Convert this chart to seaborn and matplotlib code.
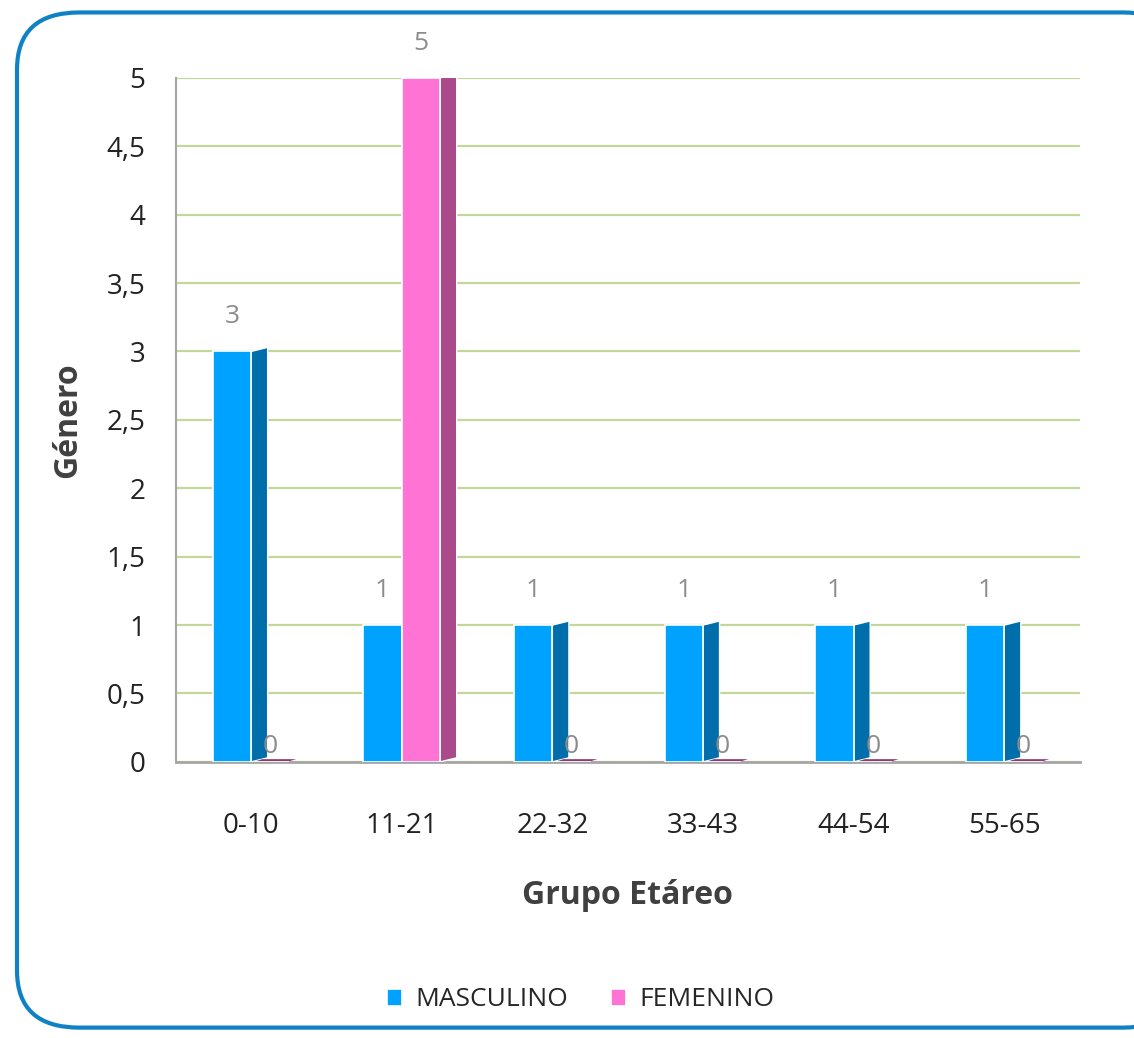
import numpy as np
import pandas as pd
import matplotlib
matplotlib.use("Agg")
import matplotlib.pyplot as plt
from matplotlib.patches import FancyBboxPatch, Polygon
from matplotlib.ticker import FuncFormatter
import seaborn as sns

# data
grupos = ["0-10", "11-21", "22-32", "33-43", "44-54", "55-65"]
masculino = [3, 1, 1, 1, 1, 1]
femenino = [0, 5, 0, 0, 0, 0]
series = ["MASCULINO", "FEMENINO"]

colors = {"MASCULINO": "#00A2FF", "FEMENINO": "#FF73D5"}
side_colors = {"MASCULINO": "#006EAA", "FEMENINO": "#AA4A8A"}

df = pd.DataFrame({
    "Grupo": grupos * 2,
    "Valor": masculino + femenino,
    "Serie": [series[0]] * len(grupos) + [series[1]] * len(grupos),
})

sns.set_style("white")
plt.rcParams["font.family"] = ["Open Sans", "DejaVu Sans"]

fig = plt.figure(figsize=(11.34, 10.38), dpi=100)

# rounded frame (behind everything)
frame = FancyBboxPatch((0.015, 0.01), 1.03, 0.978, boxstyle="round,pad=0,rounding_size=0.055",
                       transform=fig.transFigure, facecolor="white", edgecolor="#0E82C4",
                       linewidth=3, zorder=-10)
fig.patches.append(frame)

ax = fig.add_axes([0.155, 0.266, 0.797, 0.659])
ax.set_zorder(1)
ax.set_facecolor("none")

sns.barplot(data=df, x="Grupo", y="Valor", hue="Serie", palette=colors, saturation=1,
            width=0.51, ax=ax, edgecolor="white", linewidth=1.2, zorder=3, legend=True)

# fake 3D side faces, derived from the drawn bars
dx, dy = 0.11, 0.03
for container, name in zip(ax.containers, series):
    for p in container:
        x1 = p.get_x() + p.get_width()
        h = p.get_height()
        if h > 0:
            pts = [(x1, 0), (x1 + dx, dy), (x1 + dx, h + dy), (x1, h)]
            ax.add_patch(Polygon(pts, closed=True, facecolor=side_colors[name],
                                 edgecolor="white", linewidth=1, zorder=2.9))
        else:
            x0 = p.get_x()
            pts = [(x0 + 0.03, 0.005), (x1, 0.005), (x1 + dx * 0.4, 0.02), (x0 + 0.03 + dx * 0.4, 0.02)]
            ax.add_patch(Polygon(pts, closed=True, facecolor="#8E3A72",
                                 edgecolor="none", zorder=2.9))

# value labels: non-zero a bit higher, zeros close to the floor
for container, vals in zip(ax.containers, [masculino, femenino]):
    ax.bar_label(container, labels=[str(v) if v > 0 else "" for v in vals],
                 padding=16, color="#8C8C8C", fontsize=19)
    ax.bar_label(container, labels=[str(v) if v == 0 else "" for v in vals],
                 padding=2, color="#8C8C8C", fontsize=19)

ax.set_ylim(0, 5)
ax.set_xlim(-0.5, 5.5)
ax.set_yticks(np.arange(0, 5.01, 0.5))
ax.yaxis.set_major_formatter(FuncFormatter(lambda v, _: f"{v:g}".replace(".", ",")))
ax.grid(axis="y", color="#C4D79B", linewidth=1.6, zorder=0)
ax.set_axisbelow(True)

for s in ["top", "right"]:
    ax.spines[s].set_visible(False)
ax.spines["left"].set_color("#A6A6A6")
ax.spines["bottom"].set_color("#A6A6A6")
ax.spines["left"].set_linewidth(1.5)
ax.spines["bottom"].set_linewidth(2)

ax.tick_params(axis="y", labelsize=20, colors="#222222", length=0, pad=22)
ax.tick_params(axis="x", labelsize=20, colors="#222222", length=0, pad=36)

ax.set_xlabel("Grupo Etáreo", fontsize=23, fontweight="bold", color="#404040", labelpad=28)
ax.set_ylabel("Género", fontsize=23, fontweight="bold", color="#404040", labelpad=16)

ax.legend(loc="center", bbox_to_anchor=(0.448, -0.348), ncol=2, frameon=False,
          fontsize=19, handlelength=0.6, handleheight=0.6, columnspacing=1.6,
          handletextpad=0.5)

fig.savefig("out.png", dpi=100)
